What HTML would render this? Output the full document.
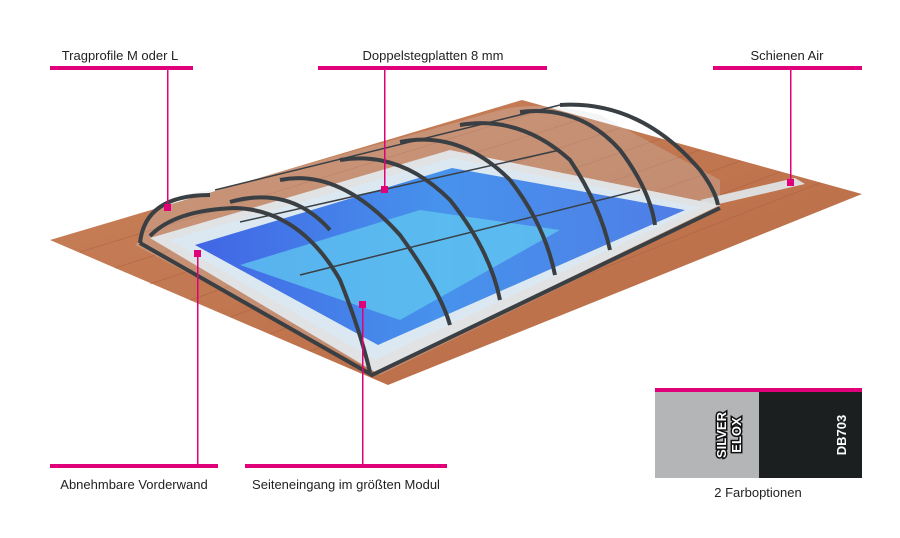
<!DOCTYPE html>
<html><head><meta charset="utf-8"><style>
body{margin:0;background:#fff;}
svg{display:block;}
text{font-family:"Liberation Sans",sans-serif;}
</style></head><body>
<svg width="900" height="538" viewBox="0 0 900 538" xmlns="http://www.w3.org/2000/svg">
<defs>
<linearGradient id="deck" x1="0" y1="0" x2="1" y2="1">
<stop offset="0" stop-color="#c9825a"/><stop offset="1" stop-color="#b86a45"/></linearGradient>
<linearGradient id="water" x1="0" y1="0" x2="1" y2="0">
<stop offset="0" stop-color="#1240e8"/><stop offset="0.5" stop-color="#1a7cf2"/><stop offset="1" stop-color="#2560ea"/></linearGradient>
</defs>
<polygon points="50,240 522,100 862,194 388,385" fill="url(#deck)"/>
<g stroke="#a65e3a" stroke-width="0.7" opacity="0.6">
<line x1="80" y1="252" x2="550" y2="108"/><line x1="115" y1="268" x2="585" y2="118"/>
<line x1="150" y1="284" x2="620" y2="128"/><line x1="190" y1="300" x2="660" y2="139"/>
<line x1="230" y1="317" x2="700" y2="150"/><line x1="270" y1="334" x2="740" y2="161"/>
<line x1="310" y1="351" x2="780" y2="172"/><line x1="350" y1="368" x2="820" y2="183"/>
</g>
<polygon points="700,200 795,178 805,184 710,206" fill="#ddd"/>
<polygon points="150,238 450,150 720,205 375,372" fill="#e6e6e6"/>
<polygon points="170,240 452,158 700,207 375,360" fill="#dfeef8"/>
<polygon points="195,245 452,168 685,210 378,345" fill="url(#water)"/>
<polygon points="240,265 420,210 560,230 400,320" fill="#3cc4f8" opacity="0.75"/>
<path d="M140,240 Q150,195 215,190 L500,110 Q540,100 600,115 L720,180 L720,210 L380,375 L135,245 Z" fill="#cfd6dc" opacity="0.25"/>
<g fill="none" stroke="#3a3f44" stroke-width="4">
<path d="M140,243 Q145,195 210,195"/>
<path d="M150,236 Q175,210 235,208 Q300,210 340,280 Q360,330 370,372"/>
<path d="M230,202 Q290,185 330,230"/>
<path d="M280,180 Q340,168 400,235 Q440,290 450,325"/>
<path d="M340,160 Q400,150 450,200 Q490,250 500,300"/>
<path d="M400,142 Q460,130 510,180 Q545,225 555,275"/>
<path d="M460,125 Q520,115 570,160 Q600,205 610,250"/>
<path d="M520,112 Q580,105 620,150 Q650,190 655,225"/>
<path d="M560,105 Q640,100 700,170 Q715,190 718,205"/>
<path d="M140,243 L372,375 L720,208"/>
</g>
<g fill="none" stroke="#3a3f44" stroke-width="1.5">
<path d="M215,190 L560,105"/><path d="M240,222 L560,150"/><path d="M300,275 L640,190"/>
</g>
<g fill="#e0007a">
<rect x="50" y="66" width="143" height="4"/><rect x="318" y="66" width="229" height="4"/><rect x="713" y="66" width="149" height="4"/>
<rect x="50" y="464" width="168" height="4"/><rect x="245" y="464" width="202" height="4"/>
<rect x="167" y="70" width="1.5" height="138"/><rect x="384" y="70" width="1.5" height="120"/><rect x="790" y="70" width="1.5" height="112"/>
<rect x="197" y="253" width="1.5" height="212"/><rect x="362" y="305" width="1.5" height="160"/>
<rect x="164" y="204" width="7" height="7"/><rect x="381" y="186" width="7" height="7"/><rect x="787" y="179" width="7" height="7"/>
<rect x="194" y="250" width="7" height="7"/><rect x="359" y="301" width="7" height="7"/>
<rect x="655" y="388" width="207" height="4"/>
</g>
<g font-size="13" fill="#222" text-anchor="middle">
<text x="120" y="60">Tragprofile M oder L</text>
<text x="433" y="60">Doppelstegplatten 8 mm</text>
<text x="787" y="60">Schienen Air</text>
<text x="134" y="489">Abnehmbare Vorderwand</text>
<text x="346" y="489">Seiteneingang im größten Modul</text>
<text x="758" y="497">2 Farboptionen</text>
</g>
<rect x="655" y="392" width="104" height="86" fill="#b3b5b6"/>
<rect x="759" y="392" width="103" height="86" fill="#1b1f1f"/>
<g font-size="13" font-weight="bold" text-anchor="middle">
<text transform="translate(726,435) rotate(-90)" fill="#fff" stroke="#111" stroke-width="3" paint-order="stroke">SILVER</text>
<text transform="translate(741,435) rotate(-90)" fill="#fff" stroke="#111" stroke-width="3" paint-order="stroke">ELOX</text>
<text transform="translate(846,435) rotate(-90)" fill="#fff">DB703</text>
</g>
</svg>
</body></html>
